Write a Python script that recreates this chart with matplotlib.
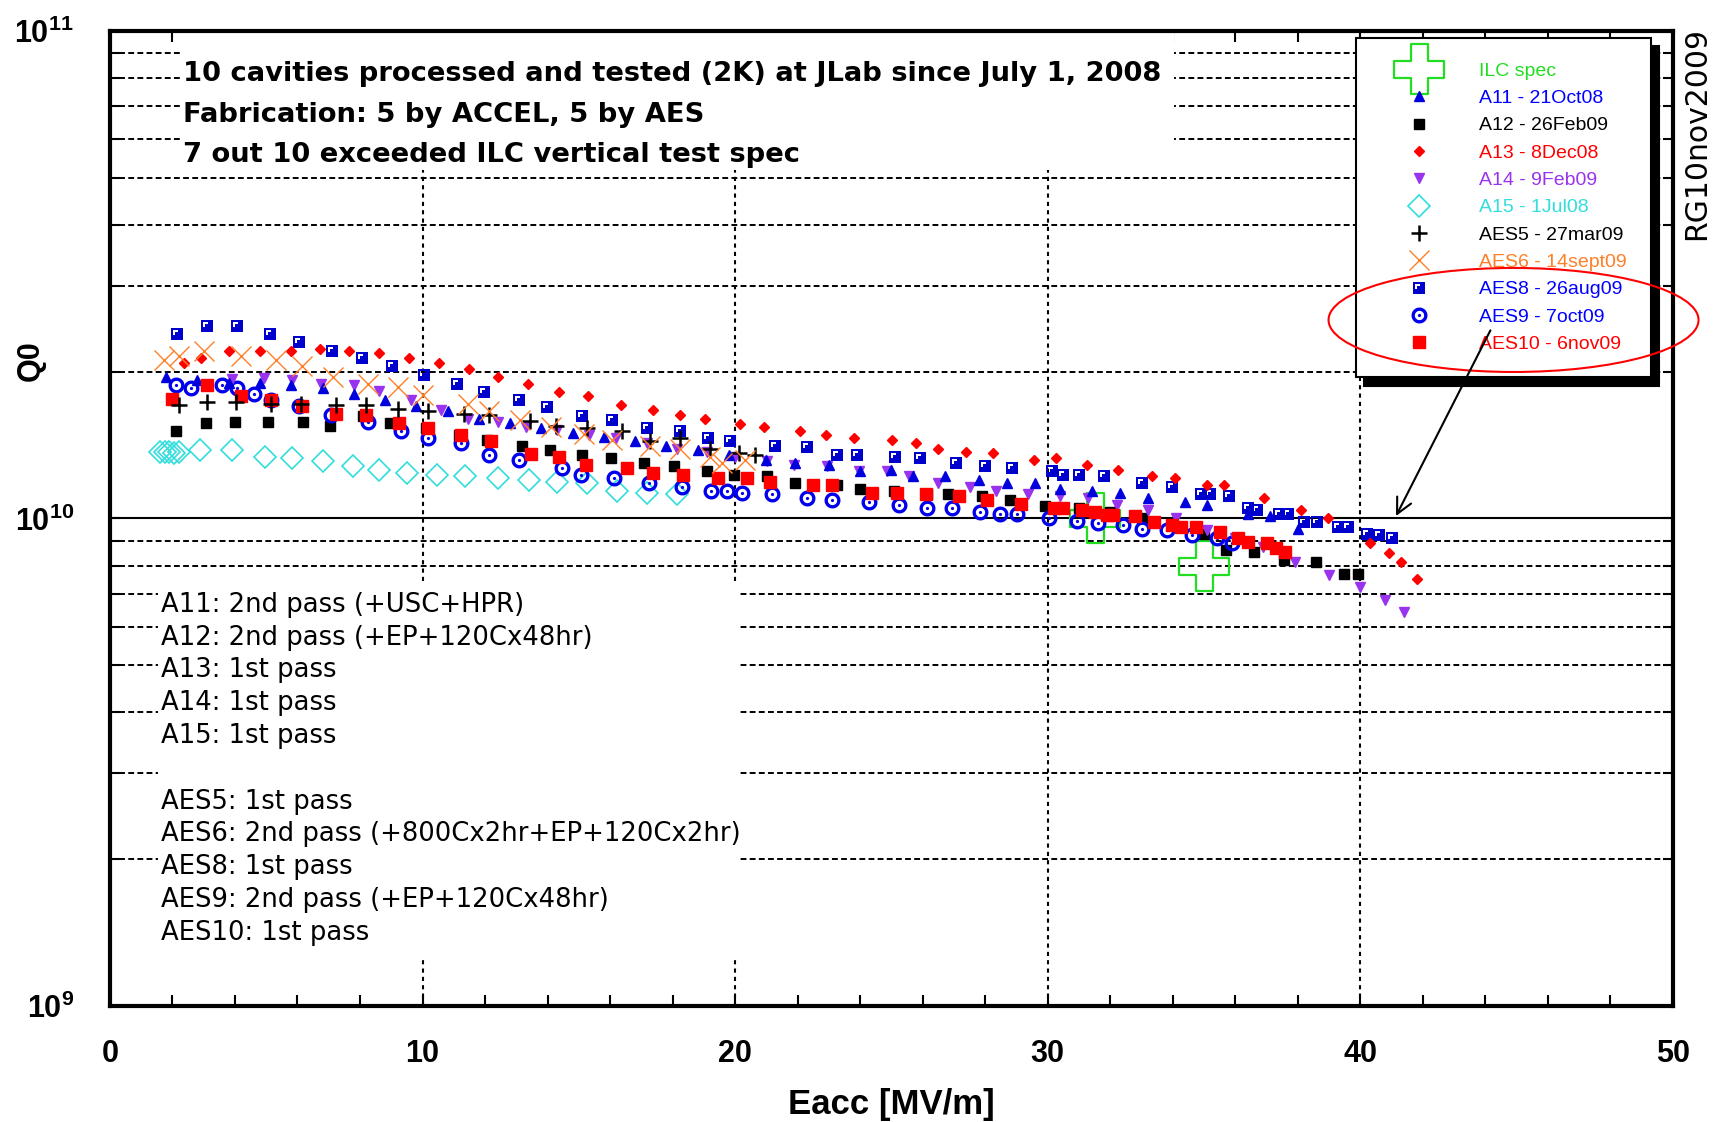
import numpy as np
import matplotlib
matplotlib.use('Agg')
import matplotlib.pyplot as plt
from matplotlib.path import Path
from matplotlib.patches import Ellipse, Rectangle
from matplotlib import font_manager

# ---- data (Eacc in MV/m, Q0 in units of 1e10) ----
ilc_x = [31.5, 35.0]
ilc_q = [1.0, 0.8]

a11_x = [1.8, 2.8, 3.8, 4.8, 5.8, 6.8, 7.8, 8.8, 9.8, 10.8, 11.8, 12.8, 13.8, 14.8, 15.8,
         16.8, 17.8, 18.8, 19.8, 21.0, 21.9, 23.0, 24.0, 25.0, 25.7, 26.7, 27.8, 28.7, 29.6,
         30.4, 31.4, 32.3, 33.2, 34.4, 35.1, 36.4, 37.1, 38.0]
a11_q = [1.95, 1.92, 1.90, 1.90, 1.88, 1.85, 1.80, 1.75, 1.70, 1.66, 1.60, 1.57, 1.53, 1.50, 1.47,
         1.44, 1.41, 1.38, 1.35, 1.32, 1.30, 1.29, 1.25, 1.26, 1.22, 1.22, 1.20, 1.18, 1.18,
         1.15, 1.14, 1.13, 1.10, 1.08, 1.065, 1.02, 1.01, 0.95]

a12_x = [2.1, 3.07, 4.0, 5.06, 6.18, 7.04, 8.08, 8.96, 10.1, 11.17, 12.07, 13.19, 14.08, 15.11,
         16.02, 17.1, 18.04, 19.1, 19.96, 21.03, 21.93, 23.26, 24.0, 25.07, 26.14, 26.8, 27.9,
         28.8, 29.92, 31.0, 32.0, 33.0, 34.0, 35.0, 35.7, 36.6, 37.56, 38.57, 39.47, 39.92]
a12_q = [1.51, 1.57, 1.58, 1.58, 1.58, 1.55, 1.62, 1.57, 1.53, 1.48, 1.45, 1.41, 1.38, 1.35,
         1.33, 1.30, 1.28, 1.25, 1.23, 1.22, 1.18, 1.17, 1.15, 1.14, 1.125, 1.12, 1.11,
         1.09, 1.06, 1.05, 1.03, 1.00, 0.97, 0.93, 0.86, 0.855, 0.82, 0.815, 0.77, 0.77]

a13_x = [2.38, 2.91, 3.81, 4.8, 5.79, 6.71, 7.65, 8.61, 9.57, 10.53, 11.49, 12.4, 13.38, 14.37,
         15.29, 16.34, 17.38, 18.25, 19.02, 20.15, 20.92, 22.07, 22.92, 23.8, 25.02, 25.8, 26.5,
         27.4, 28.26, 29.56, 30.26, 31.27, 32.25, 33.33, 34.08, 35.09, 35.65, 36.92, 38.09,
         38.97, 40.3, 40.9, 41.3, 41.8]
a13_q = [2.08, 2.13, 2.21, 2.21, 2.21, 2.23, 2.21, 2.18, 2.13, 2.08, 2.03, 1.95, 1.89, 1.82,
         1.78, 1.71, 1.67, 1.63, 1.60, 1.56, 1.54, 1.51, 1.48, 1.46, 1.45, 1.43, 1.39,
         1.37, 1.36, 1.32, 1.33, 1.29, 1.26, 1.22, 1.21, 1.17, 1.17, 1.10, 1.04,
         1.00, 0.89, 0.85, 0.815, 0.75]

a14_x = [3.9, 4.93, 5.84, 6.75, 7.81, 8.61, 9.62, 10.58, 11.44, 12.4, 13.3, 14.31, 15.32, 16.18,
         17.19, 18.15, 19.1, 20.0, 21.02, 21.88, 22.94, 23.95, 24.87, 25.55, 26.5, 27.5, 28.35,
         29.36, 30.4, 31.3, 32.2, 33.2, 34.1, 35.1, 36.0, 36.9, 37.9, 39.0, 40.0, 40.8, 41.4]
a14_q = [1.93, 1.94, 1.92, 1.89, 1.88, 1.83, 1.75, 1.67, 1.60, 1.58, 1.54, 1.52, 1.48, 1.46,
         1.43, 1.39, 1.37, 1.34, 1.31, 1.29, 1.28, 1.25, 1.25, 1.22, 1.18, 1.16, 1.14,
         1.12, 1.11, 1.10, 1.065, 1.04, 1.00, 0.946, 0.91, 0.875, 0.815, 0.765, 0.724, 0.68, 0.644]

a15_x = [1.6, 1.75, 1.9, 2.05, 2.2, 2.89, 3.92, 4.97, 5.84, 6.8, 7.77, 8.6, 9.5, 10.46, 11.37,
         12.4, 13.4, 14.3, 15.25, 16.23, 17.19, 18.15]
a15_q = [1.37, 1.37, 1.37, 1.36, 1.37, 1.38, 1.38, 1.34, 1.33, 1.31, 1.28, 1.26, 1.24, 1.23, 1.22,
         1.21, 1.20, 1.19, 1.18, 1.14, 1.13, 1.12]

aes5_x = [2.2, 3.12, 4.03, 5.15, 6.1, 7.23, 8.18, 9.2, 10.16, 11.33, 12.13, 13.43, 14.26, 15.27,
          16.39, 17.29, 18.25, 19.21, 20.12, 20.65]
aes5_q = [1.71, 1.73, 1.73, 1.72, 1.72, 1.71, 1.71, 1.68, 1.66, 1.64, 1.63, 1.585, 1.55, 1.53,
          1.51, 1.44, 1.46, 1.39, 1.36, 1.35]

aes6_x = [1.74, 2.22, 3.02, 4.19, 5.31, 6.16, 7.12, 8.24, 9.2, 10.0, 11.44, 12.13, 13.12, 14.1,
          15.16, 16.07, 17.29, 18.25, 19.21, 19.59, 20.33]
aes6_q = [2.11, 2.15, 2.21, 2.15, 2.11, 2.05, 1.95, 1.89, 1.86, 1.79, 1.72, 1.66, 1.59, 1.54,
          1.49, 1.45, 1.41, 1.39, 1.34, 1.30, 1.32]

aes8_x = [2.15, 3.11, 4.05, 5.12, 6.06, 7.11, 8.05, 9.02, 10.05, 11.1, 11.96, 13.09, 13.97, 15.09,
          16.05, 17.17, 18.23, 19.14, 19.83, 21.27, 22.29, 23.25, 23.89, 25.1, 25.9, 27.06, 28.0,
          28.85, 30.15, 30.5, 31.0, 31.8, 33.0, 33.97, 34.9, 35.2, 35.8, 36.4, 36.7, 37.4, 37.7,
          38.2, 38.6, 39.3, 39.6, 40.2, 40.6, 41.0]
aes8_q = [2.39, 2.48, 2.48, 2.39, 2.30, 2.21, 2.13, 2.05, 1.97, 1.89, 1.82, 1.75, 1.69, 1.62,
          1.59, 1.53, 1.51, 1.46, 1.44, 1.41, 1.40, 1.35, 1.35, 1.34, 1.33, 1.30, 1.28,
          1.27, 1.25, 1.23, 1.23, 1.22, 1.18, 1.16, 1.12, 1.12, 1.11, 1.05, 1.04, 1.02, 1.02,
          0.985, 0.985, 0.962, 0.962, 0.93, 0.925, 0.91]

aes9_x = [2.11, 2.59, 3.6, 4.08, 4.61, 5.15, 6.05, 7.07, 8.24, 9.3, 10.16, 11.22, 12.13, 13.09,
          14.47, 15.06, 16.12, 17.24, 18.3, 19.24, 19.73, 20.23, 21.19, 22.3, 23.1, 24.27, 25.23,
          26.14, 26.94, 27.84, 28.46, 29.02, 30.03, 30.93, 31.6, 32.4, 33.0, 33.8, 34.6, 35.4, 35.9]
aes9_q = [1.88, 1.85, 1.88, 1.85, 1.80, 1.75, 1.70, 1.63, 1.58, 1.51, 1.46, 1.43, 1.35, 1.32,
          1.27, 1.23, 1.21, 1.18, 1.16, 1.14, 1.14, 1.13, 1.12, 1.10, 1.09, 1.08, 1.065,
          1.05, 1.05, 1.03, 1.02, 1.02, 1.00, 0.99, 0.977, 0.97, 0.953, 0.946, 0.925, 0.91, 0.89]

aes10_x = [2.0, 3.12, 4.19, 5.15, 6.16, 7.23, 8.18, 9.25, 10.16, 11.22, 12.18, 13.46, 14.37, 15.22,
           16.53, 17.38, 18.34, 19.45, 20.39, 21.11, 22.5, 23.1, 24.38, 25.18, 26.1, 27.17, 28.07,
           29.13, 30.2, 30.5, 31.1, 31.5, 31.9, 32.1, 32.8, 33.4, 33.97, 34.25, 34.75, 35.5, 36.1,
           36.4, 37.0, 37.3, 37.6]
aes10_q = [1.76, 1.88, 1.78, 1.75, 1.70, 1.64, 1.63, 1.57, 1.53, 1.48, 1.44, 1.355, 1.34, 1.29,
           1.27, 1.24, 1.23, 1.21, 1.21, 1.19, 1.17, 1.17, 1.13, 1.13, 1.12, 1.11, 1.09,
           1.07, 1.05, 1.05, 1.04, 1.03, 1.015, 1.015, 1.01, 0.985, 0.97, 0.962, 0.962, 0.939, 0.91,
           0.896, 0.89, 0.868, 0.855]

legend_labels = ['ILC spec', 'A11 - 21Oct08', 'A12 - 26Feb09', 'A13 - 8Dec08', 'A14 - 9Feb09',
                 'A15 - 1Jul08', 'AES5 - 27mar09', 'AES6 - 14sept09', 'AES8 - 26aug09',
                 'AES9 - 7oct09', 'AES10 - 6nov09']
legend_colors = ['#22dd22', '#0000ff', 'black', '#ff0000', '#9933ee', '#33dddd', 'black',
                 '#ff7f27', '#0000ff', '#0000ff', '#ff0000']

title_lines = ['10 cavities processed and tested (2K) at JLab since July 1, 2008',
               'Fabrication: 5 by ACCEL, 5 by AES',
               '7 out 10 exceeded ILC vertical test spec']
note_lines = ['A11: 2nd pass (+USC+HPR)', 'A12: 2nd pass (+EP+120Cx48hr)', 'A13: 1st pass',
              'A14: 1st pass', 'A15: 1st pass', 'AES5: 1st pass',
              'AES6: 2nd pass (+800Cx2hr+EP+120Cx2hr)', 'AES8: 1st pass',
              'AES9: 2nd pass (+EP+120Cx48hr)', 'AES10: 1st pass']

# fonts
names = {f.name for f in font_manager.fontManager.ttflist}
narrow = 'Liberation Sans Narrow' if 'Liberation Sans Narrow' in names else 'Liberation Sans'
plt.rcParams['font.family'] = ['Liberation Sans', 'DejaVu Sans']
plt.rcParams['mathtext.fontset'] = 'custom'
plt.rcParams['mathtext.rm'] = narrow
plt.rcParams['mathtext.bf'] = narrow + ':bold'


# custom marker shapes
def compound(*rings):
    verts, codes = [], []
    for r in rings:
        verts += list(r) + [r[0]]
        codes += [Path.MOVETO] + [Path.LINETO] * (len(r) - 1) + [Path.CLOSEPOLY]
    return Path(verts, codes)


a = 0.34
plus_marker = compound([(-a, 1), (a, 1), (a, a), (1, a), (1, -a), (a, -a), (a, -1), (-a, -1),
                        (-a, -a), (-1, -a), (-1, a), (-a, a)])
notch_sq = compound([(-1, -1), (1, -1), (1, 1), (-1, 1)],
                    [(-0.6, 0.6), (0.15, 0.6), (0.15, 0.3), (-0.3, 0.3), (-0.3, -0.15), (-0.6, -0.15)])
t = np.linspace(0, 2 * np.pi, 48, endpoint=False)
ring_out = list(zip(np.cos(t), np.sin(t)))
ring_in = list(zip(0.58 * np.cos(t[::-1]), 0.58 * np.sin(t[::-1])))
dot = list(zip(0.2 * np.cos(t), 0.2 * np.sin(t)))
dot_circle = compound(ring_out, ring_in, dot)

fig = plt.figure(figsize=(17.15, 11.22), dpi=100)
ax = fig.add_axes([0.0641, 0.1034, 0.9114, 0.869])

E = 1e10
h = {}
h['ILC'], = ax.plot(ilc_x, np.array(ilc_q) * E, ls='none', marker=plus_marker, ms=36,
                    mfc='none', mec='#22dd22', mew=1.6, zorder=2)
h['A15'], = ax.plot(a15_x, np.array(a15_q) * E, ls='none', marker='D', ms=11.5,
                    mfc='none', mec='#33dddd', mew=1.2, zorder=2.1)
h['A12'], = ax.plot(a12_x, np.array(a12_q) * E, ls='none', marker='s', ms=7,
                    color='black', zorder=2.2)
h['AES9'], = ax.plot(aes9_x, np.array(aes9_q) * E, ls='none', marker=dot_circle, ms=11.5,
                     color='#0000ee', mew=0, zorder=2.3)
h['A14'], = ax.plot(a14_x, np.array(a14_q) * E, ls='none', marker='v', ms=7.5,
                    color='#9933ee', zorder=2.4)
h['A11'], = ax.plot(a11_x, np.array(a11_q) * E, ls='none', marker='^', ms=7.5,
                    color='#0000dd', zorder=2.5)
h['AES8'], = ax.plot(aes8_x, np.array(aes8_q) * E, ls='none', marker=notch_sq, ms=9,
                     color='#0000cc', mew=0, zorder=2.6)
h['A13'], = ax.plot(a13_x, np.array(a13_q) * E, ls='none', marker='D', ms=5.5,
                    color='#ff0000', zorder=2.7)
h['AES10'], = ax.plot(aes10_x, np.array(aes10_q) * E, ls='none', marker='s', ms=9,
                      color='#ff0000', zorder=2.8)
h['AES5'], = ax.plot(aes5_x, np.array(aes5_q) * E, ls='none', marker='+', ms=12,
                     color='black', mew=1.8, zorder=2.9)
h['AES6'], = ax.plot(aes6_x, np.array(aes6_q) * E, ls='none', marker='x', ms=15,
                     color='#ff7f27', mew=1.0, zorder=3)

ax.set_xlim(0, 50)
ax.set_yscale('log')
ax.set_ylim(1e9, 1e11)

# ticks
ax.set_xticks(range(0, 51, 10))
ax.set_xticks(np.arange(0, 51, 2), minor=True)
ax.set_xticklabels([str(v) for v in range(0, 51, 10)], family=[narrow, 'DejaVu Sans'],
                   fontweight='bold', fontsize=22)
ax.set_yticks([1e9, 1e10, 1e11])
ax.set_yticklabels([r'$\mathbf{10^{9}}$', r'$\mathbf{10^{10}}$', r'$\mathbf{10^{11}}$'], fontsize=22)
ax.tick_params(axis='x', which='both', direction='in', top=True, length=8, width=1.5, pad=24)
ax.tick_params(axis='y', which='both', direction='in', right=True, length=7, width=1.5, pad=26)
ax.yaxis.set_minor_formatter(plt.NullFormatter())

for s in ax.spines.values():
    s.set_linewidth(3)

# grid
ax.yaxis.grid(True, which='minor', color='black', linestyle=(0, (3, 1.7)), linewidth=1.4)
ax.xaxis.grid(True, which='major', color='black', linestyle=(0, (2, 2)), linewidth=1.5)
ax.axhline(1e10, color='black', lw=1.5, zorder=1.6)

# white boxes behind the annotations
ax.add_patch(Rectangle((0.046, 0.857), 0.635, 0.143, transform=ax.transAxes,
                       facecolor='white', edgecolor='none', zorder=1.8))
ax.add_patch(Rectangle((0.031, 0.049), 0.371, 0.383, transform=ax.transAxes,
                       facecolor='white', edgecolor='none', zorder=1.8))

title_y = [0.9555, 0.9141, 0.8725]
for txt, yy in zip(title_lines, title_y):
    ax.text(0.047, yy, txt, transform=ax.transAxes, fontsize=19.75, fontweight='bold',
            family='DejaVu Sans', va='center', ha='left', zorder=4)

note_y = [0.4113, 0.3777, 0.3441, 0.3105, 0.2768, 0.2095, 0.1759, 0.1422, 0.1085, 0.0749]
for txt, yy in zip(note_lines, note_y):
    ax.text(0.0326, yy, txt, transform=ax.transAxes, fontsize=18.6, family='DejaVu Sans',
            va='center', ha='left', zorder=4)

ax.set_xlabel('Eacc [MV/m]', fontsize=25, fontweight='bold')
ax.xaxis.set_label_coords(0.5, -0.084)
ax.set_ylabel('Q0', fontsize=22, fontweight='bold')
ax.yaxis.set_label_coords(-0.041, 0.662)

fig.text(0.9895, 0.976, 'RG10nov2009', rotation=90, ha='center', va='top', fontsize=21.5,
         family='DejaVu Sans')

# legend
order = ['ILC', 'A11', 'A12', 'A13', 'A14', 'A15', 'AES5', 'AES6', 'AES8', 'AES9', 'AES10']
leg = ax.legend([h[k] for k in order], legend_labels, loc='upper left',
                bbox_to_anchor=(0.797, 0.993), borderaxespad=0, numpoints=1,
                fancybox=False, framealpha=1, edgecolor='black',
                shadow={'ox': 6, 'oy': -6, 'color': 'black', 'alpha': 1},
                prop={'family': ['Liberation Sans', 'DejaVu Sans'], 'size': 14},
                handlelength=4.0, handletextpad=1.1, borderpad=1.25, labelspacing=0.5)
leg.get_frame().set_linewidth(1.5)
leg.set_zorder(5)
for txt, c in zip(leg.get_texts(), legend_colors):
    txt.set_color(c)

# red ellipse and arrow
ax.add_patch(Ellipse((0.898, 0.7036), 0.2367, 0.1067, transform=ax.transAxes, fill=False,
                     edgecolor='red', lw=1.5, clip_on=False, zorder=7))
ax.annotate('', xy=(41.1, 1.0e10), xytext=(44.2, 2.46e10),
            arrowprops=dict(arrowstyle='->', color='black', lw=1.5, mutation_scale=28),
            zorder=7)

fig.savefig('out.png', dpi=100, facecolor='white')
